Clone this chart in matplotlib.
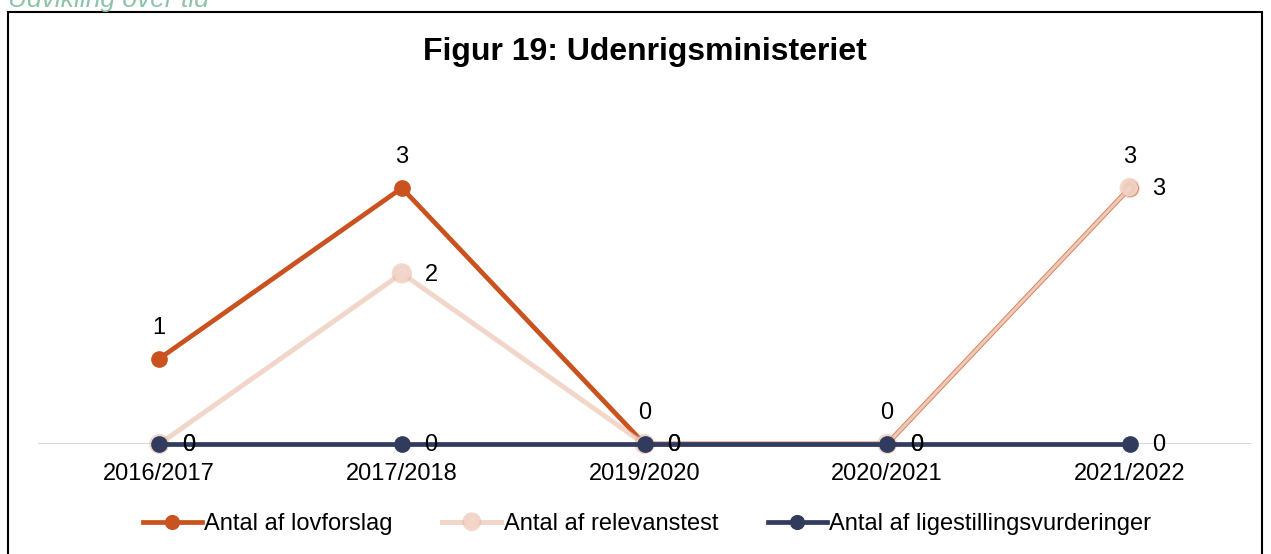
import matplotlib.pyplot as plt
import matplotlib.patheffects as pe
from matplotlib.patches import Rectangle

plt.rcParams["font.family"] = ["Liberation Sans", "DejaVu Sans"]

years = ["2016/2017", "2017/2018", "2019/2020", "2020/2021", "2021/2022"]
lovforslag = [1, 3, 0, 0, 3]
relevanstest = [0, 2, 0, 0, 3]
ligestilling = [0, 0, 0, 0, 0]

c_lov = "#c9521f"
c_rel = "#f2d6c9"
c_rel_edge = "#e6b29b"
c_lig = "#313b5e"

fs = 17

fig = plt.figure(figsize=(12.71, 5.54), dpi=100)
ax = fig.add_axes([38 / 1271, 110 / 554, 1213 / 1271, 299 / 554])

x = range(len(years))
ax.axhline(0, color="#d9d9d9", lw=1.5, zorder=1)

ax.plot(x, lovforslag, color=c_lov, lw=3.4, marker="o", ms=11,
        clip_on=False, zorder=3, label="Antal af lovforslag")
ax.plot(x, relevanstest, color=c_rel, lw=2.2, marker="o", ms=11, alpha=0.85,
        mec=c_rel, clip_on=False, zorder=4, label="Antal af relevanstest",
        path_effects=[pe.Stroke(linewidth=3.6, foreground=c_rel_edge, alpha=0.5),
                      pe.Normal()])
ax.plot(x, ligestilling, color=c_lig, lw=3.4, marker="o", ms=11,
        clip_on=False, zorder=5, label="Antal af ligestillingsvurderinger")

for i, v in enumerate(lovforslag):
    ax.annotate(str(v), (i, v), xytext=(0, 22), textcoords="offset points",
                ha="center", va="center", fontsize=fs, zorder=6)
for i, v in enumerate(relevanstest):
    ax.annotate(str(v), (i, v), xytext=(21, -1), textcoords="offset points",
                ha="center", va="center", fontsize=fs, zorder=6)
for i, v in enumerate(ligestilling):
    ax.annotate(str(v), (i, v), xytext=(21, -1), textcoords="offset points",
                ha="center", va="center", fontsize=fs, zorder=6)

ax.set_xlim(-0.5, 4.5)
ax.set_ylim(0, 3.504)
ax.set_xticks(list(x))
ax.set_xticklabels(years, fontsize=fs)
ax.tick_params(axis="x", length=0, pad=14)
ax.set_yticks([])
for s in ax.spines.values():
    s.set_visible(False)

fig.text(645 / 1271, 1 - 52 / 554, "Figur 19: Udenrigsministeriet",
         ha="center", va="center", fontsize=23, fontweight="bold")

fig.text(8 / 1271, 1 - 7 / 554, "Udvikling over tid", ha="left",
         va="baseline", fontsize=19, color="#8dc3a7", style="italic")

fig.patches.append(Rectangle((8 / 1271, -0.05), 1254 / 1271, 1.05 - 12 / 554,
                             transform=fig.transFigure, fill=False,
                             edgecolor="black", lw=1.5))

fig.legend(loc="center", bbox_to_anchor=(647 / 1271, 1 - 524 / 554), ncol=3,
           frameon=False, fontsize=fs, handlelength=2.5, handletextpad=0.1,
           columnspacing=2.1, markerscale=0.9)

fig.savefig("out.png", dpi=100)
